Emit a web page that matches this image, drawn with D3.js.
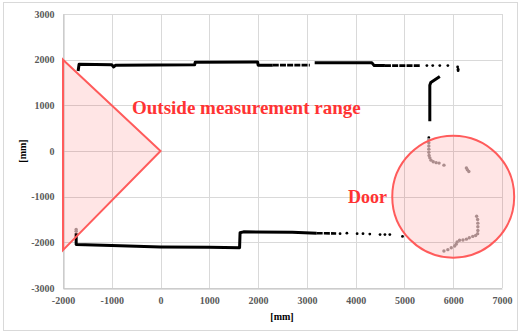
<!DOCTYPE html>
<html><head><meta charset="utf-8">
<script src="https://cdn.jsdelivr.net/npm/d3@7/dist/d3.min.js"></script>
<style>html,body{margin:0;padding:0;background:#fff;}svg{display:block;}</style>
</head><body>
<svg id="chart" width="523" height="333"></svg>
<script>
// ---- data (mm) ----
const xTicks = [-2000,-1000,0,1000,2000,3000,4000,5000,6000,7000];
const yTicks = [-3000,-2000,-1000,0,1000,2000,3000];
const xDomain = [-2000,7000];
const yDomain = [-3000,3000];

// dense scan runs (drawn as continuous traces)
const solidWalls = [
  [[-1690,1750],[-1670,1900],[-1000,1890],[-960,1840],[-920,1880],[700,1890],[710,1945],[1990,1950],[2000,1880],[2300,1880]],
  [[3160,1930],[4330,1935],[4380,1870],[4600,1870]],
  [[5725,1630],[5540,1500],[5520,1440],[5520,650]],
  [[-1730,-1800],[-1730,-2050],[-1000,-2070],[0,-2100],[1000,-2110],[1620,-2120],[1630,-1790],[1700,-1770],[2700,-1780],[3200,-1800]]
];
// semi-dense runs
const dashedWalls = [
  [[2300,1880],[3060,1880]],
  [[4600,1870],[5320,1870]],
  [[3200,-1800],[3600,-1805]]
];
// sparse black points
const blackPoints = [
  [5460,1870],[5580,1870],[5725,1870],[5890,1870],
  [6090,1840],[6100,1790],[6100,1760],
  [5500,290],
  [3680,-1810],[3820,-1800],[4030,-1810],[4150,-1810],[4290,-1820],[4500,-1830],[4600,-1830],[4700,-1830],
  [4960,-1870]
];
// door points (grey)
const doorPoints = [
  [-1730,-1720],[-1730,-1760],
  [5500,250],[5500,180],[5500,110],[5500,40],[5500,-30],[5505,-100],[5520,-150],[5545,-200],[5590,-235],[5650,-255],[5710,-265],[5810,-310],
  [6270,-370],[6290,-410],[6320,-450],
  [6480,-1430],[6500,-1500],[6505,-1580],[6505,-1660],[6505,-1740],[6500,-1810],[6460,-1850],[6400,-1870],[6330,-1900],[6270,-1930],[6200,-1950],[6130,-1955],[6080,-1990],[6060,-2040],[6030,-2080],[5960,-2120],[5890,-2160],[5810,-2190]
];
// annotations
const rangeTriangle = [[-2000,2000],[0,0],[-2000,-2170]];
const doorCircle = {cx:6000, cy:-1000, r:1250};
const labels = {range:"Outside measurement range", door:"Door", axis:"[mm]"};

// ---- drawing ----
const svg = d3.select("#chart");
const m = {l:63, r:502, t:14, b:288};
const x = d3.scaleLinear().domain(xDomain).range([m.l, m.r]);
const y = d3.scaleLinear().domain(yDomain).range([m.b, m.t]);
const serif = "'Liberation Serif','Times New Roman',serif";

svg.append("rect").attr("x",3.5).attr("y",2.5).attr("width",514).attr("height",328)
  .attr("fill","#fff").attr("stroke","#d9d9d9");

// gridlines
svg.append("g").selectAll("line").data(xTicks).join("line")
  .attr("x1",d=>Math.round(x(d))+0.5).attr("x2",d=>Math.round(x(d))+0.5)
  .attr("y1",m.t).attr("y2",m.b).attr("stroke","#d9d9d9");
svg.append("g").selectAll("line").data(yTicks).join("line")
  .attr("y1",d=>Math.round(y(d))+0.5).attr("y2",d=>Math.round(y(d))+0.5)
  .attr("x1",m.l).attr("x2",m.r).attr("stroke","#d9d9d9");

// axes
const xAxis = svg.append("g").attr("transform",`translate(0,${Math.round(y(-3000))+0.5})`)
  .call(d3.axisBottom(x).tickValues(xTicks).tickSize(0).tickPadding(8).tickFormat(d3.format("d")));
const yAxis = svg.append("g").attr("transform",`translate(${Math.round(x(-2000))+0.5},0)`)
  .call(d3.axisLeft(y).tickValues(yTicks).tickSize(0).tickPadding(9).tickFormat(d3.format("d")));
[xAxis,yAxis].forEach(a=>{
  a.select(".domain").attr("stroke","#bfbfbf");
  a.selectAll("text").attr("font-family",serif).attr("font-size",10).attr("font-weight","bold").attr("fill","#595959");
});
xAxis.selectAll("text").text(d=>d<0?"-"+Math.abs(d):d);
yAxis.selectAll("text").text(d=>d<0?"-"+Math.abs(d):d);

svg.append("text").attr("x",282).attr("y",320).attr("text-anchor","middle")
  .attr("font-family",serif).attr("font-size",10).attr("font-weight","bold").text(labels.axis);
svg.append("text").attr("transform",`translate(26,${y(0)}) rotate(-90)`).attr("text-anchor","middle")
  .attr("font-family",serif).attr("font-size",10).attr("font-weight","bold").text(labels.axis);

// scan data
const line = d3.line().x(d=>x(d[0])).y(d=>y(d[1]));
svg.append("g").selectAll("path").data(solidWalls).join("path")
  .attr("d",line).attr("fill","none").attr("stroke","#000").attr("stroke-width",3)
  .attr("stroke-linejoin","round");
svg.append("g").selectAll("path").data(dashedWalls).join("path")
  .attr("d",line).attr("fill","none").attr("stroke","#000").attr("stroke-width",2.6)
  .attr("stroke-dasharray","6 1.2");
svg.append("g").selectAll("circle").data(blackPoints).join("circle")
  .attr("cx",d=>x(d[0])).attr("cy",d=>y(d[1])).attr("r",1.4).attr("fill","#000");
svg.append("g").selectAll("circle").data(doorPoints).join("circle")
  .attr("cx",d=>x(d[0])).attr("cy",d=>y(d[1])).attr("r",1.7).attr("fill","#a39d9d");

// annotations
svg.append("path").attr("d",d3.line()(rangeTriangle.map(p=>[x(p[0]),y(p[1])]))+"Z")
  .attr("fill","rgba(255,0,0,0.1)").attr("stroke","#ff5b5b").attr("stroke-width",2);
svg.append("circle").attr("cx",x(doorCircle.cx)).attr("cy",y(doorCircle.cy))
  .attr("r",x(doorCircle.cx+doorCircle.r)-x(doorCircle.cx))
  .attr("fill","rgba(255,0,0,0.1)").attr("stroke","#ff5b5b").attr("stroke-width",2);

svg.append("text").attr("x",132).attr("y",114).attr("font-family",serif).attr("font-size",19)
  .attr("font-weight","bold").attr("fill","#ff3333").text(labels.range);
svg.append("text").attr("x",348).attr("y",203).attr("font-family",serif).attr("font-size",18)
  .attr("font-weight","bold").attr("fill","#ff3333").text(labels.door);
</script>
</body></html>
